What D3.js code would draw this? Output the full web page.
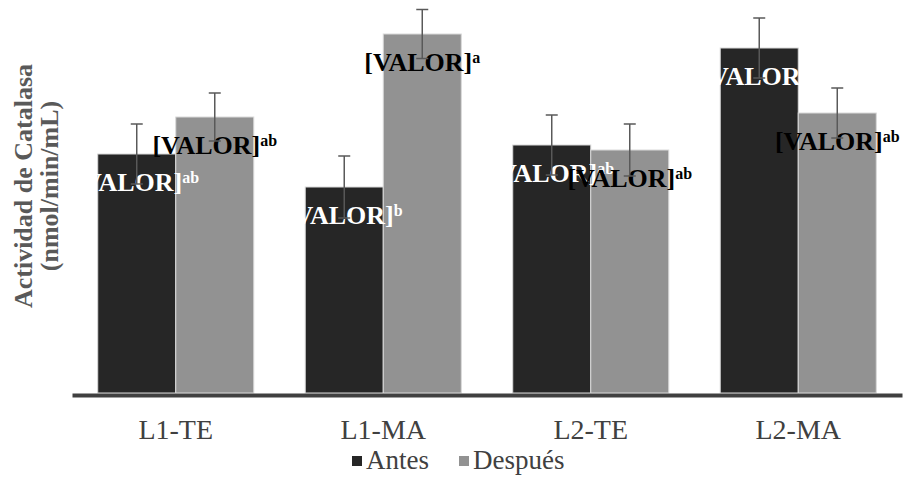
<!DOCTYPE html>
<html lang="es">
<head>
    <meta charset="UTF-8">
    <title>Actividad de Catalasa</title>
    <style>
        body {
            margin: 0;
            background: #ffffff;
        }
        svg text {
            font-family: "Liberation Serif", "Times New Roman", serif;
        }
    </style>
</head>
<body>
    <div id="chart"></div>

    <script src="https://d3js.org/d3.v7.min.js"></script>
    <script>
        // Data
        var categories = ["L1-TE", "L1-MA", "L2-TE", "L2-MA"];
        var seriesNames = ["Antes", "Después"];
        var antes = [23.9, 20.6, 24.8, 34.5];
        var despues = [27.6, 35.9, 24.3, 28.0];
        var errAntes = [3.0, 3.1, 3.0, 3.0];
        var errDespues = [2.4, 2.45, 2.6, 2.5];
        var supAntes = ["ab", "b", "ab", "a"];
        var supDespues = ["ab", "a", "ab", "ab"];

        var colors = { "Antes": "#262626", "Después": "#929292" };
        var labelColors = { "Antes": "#ffffff", "Después": "#000000" };
        var serif = "Liberation Serif";

        var width = 905, height = 495;
        var plot = { left: 72, right: 902, bottom: 393 };

        var svg = d3.select("#chart").append("svg")
            .attr("width", width)
            .attr("height", height)
            .attr("font-family", serif);

        // build rows for each series
        var rows = [];
        categories.forEach(function(c, i) {
            rows.push({ cat: c, series: "Antes", value: antes[i], err: errAntes[i], sup: supAntes[i] });
            rows.push({ cat: c, series: "Después", value: despues[i], err: errDespues[i], sup: supDespues[i] });
        });

        var x0 = d3.scaleBand()
            .domain(categories)
            .range([plot.left, plot.right])
            .paddingInner(0.248)
            .paddingOuter(0.124);

        var x1 = d3.scaleBand()
            .domain(seriesNames)
            .range([0, x0.bandwidth()]);

        var y = d3.scaleLinear()
            .domain([0, 40])
            .range([plot.bottom, plot.bottom - 400]);

        function bx(d) { return x0(d.cat) + x1(d.series); }
        function cx(d) { return bx(d) + x1.bandwidth() / 2; }

        // bars
        svg.append("g").selectAll("rect")
            .data(rows)
            .enter()
            .append("rect")
            .attr("x", bx)
            .attr("y", function(d) { return y(d.value); })
            .attr("width", x1.bandwidth())
            .attr("height", function(d) { return y(0) - y(d.value); })
            .attr("fill", function(d) { return colors[d.series]; })
            .attr("stroke", "#d9d9d9")
            .attr("stroke-width", 1);

        // x axis line + category labels
        var xAxis = svg.append("g")
            .attr("transform", "translate(0," + (plot.bottom + 2) + ")")
            .call(d3.axisBottom(x0).tickSize(0).tickPadding(24));
        xAxis.attr("font-family", serif).attr("font-size", 28);
        xAxis.select(".domain")
            .attr("stroke", "#404040")
            .attr("stroke-width", 4);
        xAxis.selectAll(".tick text")
            .attr("fill", "#404040");

        // data labels, one series after the other
        seriesNames.forEach(function(s) {
            var lab = svg.append("g").selectAll("text")
                .data(rows.filter(function(d) { return d.series === s; }))
                .enter()
                .append("text")
                .attr("x", cx)
                .attr("y", function(d) { return y(d.value) + 37; })
                .attr("text-anchor", "middle")
                .attr("fill", labelColors[s])
                .attr("font-weight", "bold")
                .attr("font-size", 26);
            lab.append("tspan").text("[VALOR]");
            lab.append("tspan")
                .attr("dy", -8)
                .attr("font-size", 16)
                .text(function(d) { return d.sup; });
        });

        // error bars
        var eb = svg.append("g")
            .attr("stroke", "#595959")
            .attr("stroke-width", 1.5)
            .selectAll("g")
            .data(rows)
            .enter()
            .append("g");
        eb.append("line")
            .attr("x1", cx).attr("x2", cx)
            .attr("y1", function(d) { return y(d.value + d.err); })
            .attr("y2", function(d) { return y(d.value - d.err); });
        eb.append("line")
            .attr("x1", function(d) { return cx(d) - 6; })
            .attr("x2", function(d) { return cx(d) + 6; })
            .attr("y1", function(d) { return y(d.value + d.err); })
            .attr("y2", function(d) { return y(d.value + d.err); });
        eb.append("line")
            .attr("x1", function(d) { return cx(d) - 6; })
            .attr("x2", function(d) { return cx(d) + 6; })
            .attr("y1", function(d) { return y(d.value - d.err); })
            .attr("y2", function(d) { return y(d.value - d.err); });

        // y axis title (two lines, rotated)
        var title = svg.append("text")
            .attr("transform", "translate(32,186) rotate(-90)")
            .attr("text-anchor", "middle")
            .attr("fill", "#595959")
            .attr("font-weight", "bold")
            .attr("font-size", 26);
        title.append("tspan").attr("x", 0).attr("y", 0).text("Actividad de Catalasa");
        title.append("tspan").attr("x", 0).attr("y", 26).text("(nmol/min/mL)");

        // legend
        var legend = svg.append("g").attr("transform", "translate(352,469)");
        var legendX = [0, 107];
        seriesNames.forEach(function(s, i) {
            var g = legend.append("g").attr("transform", "translate(" + legendX[i] + ",0)");
            g.append("rect")
                .attr("x", 0).attr("y", -13)
                .attr("width", 10).attr("height", 10)
                .attr("fill", colors[s]);
            g.append("text")
                .attr("x", 14).attr("y", 0)
                .attr("fill", "#404040")
                .attr("font-size", 27)
                .text(s);
        });
    </script>
</body>
</html>
